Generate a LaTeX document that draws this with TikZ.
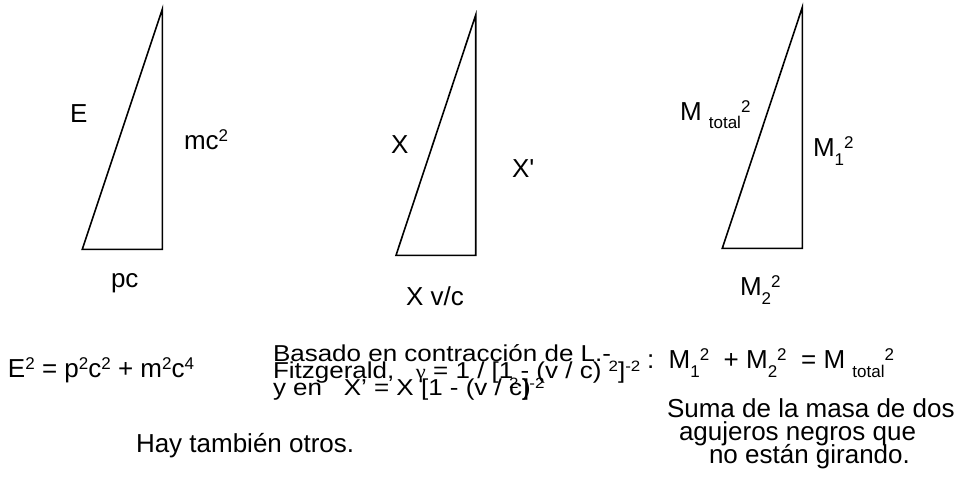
\documentclass[tikz,border=0pt]{standalone}
\usepackage{fontspec}
\setmainfont{Liberation Sans}
\newfontfamily\gfont{Liberation Serif}
\newcommand\up[1]{\raisebox{8pt}{\fontsize{17}{17}\selectfont #1}}
\newcommand\dn[1]{\raisebox{-9pt}{\fontsize{17}{17}\selectfont #1}}
\newcommand\upb[1]{\raisebox{6.5pt}{\fontsize{15}{15}\selectfont #1}}
\newcommand\wide[1]{\scalebox{1.13}[1]{#1}}
\begin{document}
\begin{tikzpicture}[x=1pt,y=-1pt,
  txt/.style={anchor=base west, inner sep=0pt, outer sep=0pt, font=\fontsize{26}{26}\selectfont},
  txtb/.style={anchor=base west, inner sep=0pt, outer sep=0pt, font=\fontsize{23}{23}\selectfont},
  tri/.style={draw=black, line width=1.6pt, line join=miter}]
\useasboundingbox[fill=white] (0,0) rectangle (961,487);
% triangles
\coordinate (a1) at (82.3,249.3);  \coordinate (b1) at (162.3,249.3);  \coordinate (c1) at (162.3,9.3);
\coordinate (a2) at (396,255.3);   \coordinate (b2) at (475.7,255.3);  \coordinate (c2) at (475.7,15);
\coordinate (a3) at (722.3,248.3); \coordinate (b3) at (802.3,248.3);  \coordinate (c3) at (802.3,7.3);
\draw[tri] (a1) -- (b1) -- (c1) -- cycle;
\draw[tri] (a2) -- (b2) -- (c2) -- cycle;
\draw[tri] (a3) -- (b3) -- (c3) -- cycle;
% labels, triangle 1
\node[txt] (lE)  at (70,122)  {E};
\node[txt] (lmc) at (184,149) {mc\up{2}};
\node[txt] (lpc) at (111,287) {pc};
% labels, triangle 2
\node[txt] (lX)  at (391,153) {X};
\node[txt] (lXp) at (512,177) {X\textquotesingle};
\node[txt] (lXv) at (406,305) {X v/c};
% labels, triangle 3
\node[txt] (lMt) at (680,120) {M \dn{total}\up{2}};
\node[txt] (lM1) at (813,156) {M\dn{1}\up{2}};
\node[txt] (lM2) at (740,295) {M\dn{2}\up{2}};
% bottom texts
\node[txt] (eq1) at (8,377) {E\up{2} = p\up{2}c\up{2} + m\up{2}c\up{4}};
\node[txtb] (bas1) at (273,361) {\wide{Basado en contracción de L.-}};
\node[txtb] (bas2) at (273,378) {\wide{Fitzgerald,\ \ \ {\gfont\fontsize{20}{20}\selectfont γ} = 1 / [1 - (v / c) \upb{2}]\upb{-2}}};
\node[txtb] (bas3) at (273,395) {\wide{y en\ \ \ X’ = X [1 - (v / \rlap{\upb{2}}c\rlap{)}]\upb{-2}}};
\node[txt] (eq3) at (647,368) {:\ \ M\dn{1}\up{2}\ \ +\ M\dn{2}\up{2}\ \ =\ M \dn{total}\up{2}};
\node[txt] (hay) at (136,452) {Hay también otros.};
\node[txt] (sum1) at (667,417) {Suma de la masa de dos};
\node[txt] (sum2) at (679,440) {agujeros negros que};
\node[txt] (sum3) at (709,463) {no están girando.};
\end{tikzpicture}
\end{document}
